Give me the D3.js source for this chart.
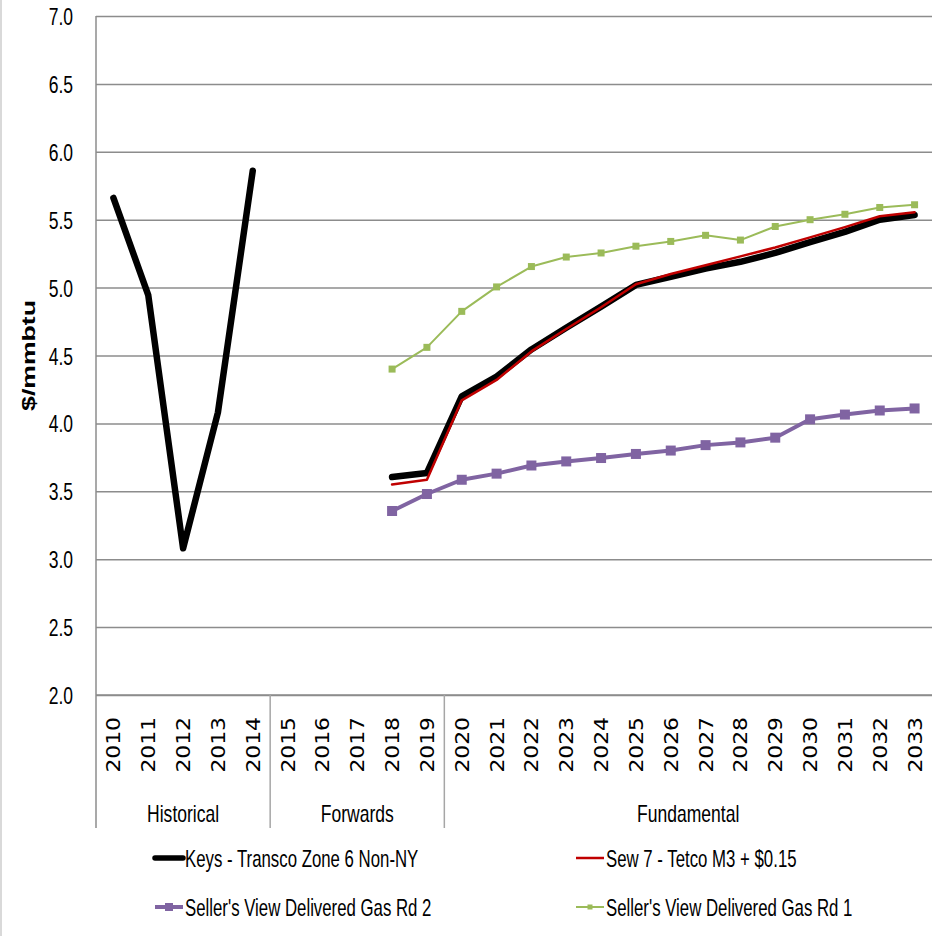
<!DOCTYPE html>
<html>
<head>
<meta charset="utf-8">
<script src="https://cdn.jsdelivr.net/npm/d3@7"></script>
<style>
  html, body { margin: 0; padding: 0; background: #fff; }
  svg { display: block; }
</style>
</head>
<body>
<script>
// ---- data ----
const years = ["2010","2011","2012","2013","2014","2015","2016","2017","2018","2019","2020","2021","2022","2023","2024","2025","2026","2027","2028","2029","2030","2031","2032","2033"];
const groups = [
  { name: "Historical", from: "2010", to: "2014" },
  { name: "Forwards", from: "2015", to: "2019" },
  { name: "Fundamental", from: "2020", to: "2033" }
];
const yTicks = [2.0, 2.5, 3.0, 3.5, 4.0, 4.5, 5.0, 5.5, 6.0, 6.5, 7.0];

const keys = [5.66, 4.945, 3.08, 4.08, 5.86, null, null, null, 3.605, 3.635, 4.20, 4.345, 4.545, 4.705, 4.86, 5.02, 5.08, 5.14, 5.19, 5.255, 5.335, 5.41, 5.50, 5.535];
const sew7 = [null, null, null, null, null, null, null, null, 3.55, 3.585, 4.17, 4.32, 4.53, 4.695, 4.855, 5.025, 5.10, 5.165, 5.23, 5.295, 5.37, 5.445, 5.525, 5.555];
const rd2 = [null, null, null, null, null, null, null, null, 3.355, 3.48, 3.585, 3.63, 3.69, 3.72, 3.745, 3.775, 3.80, 3.84, 3.86, 3.895, 4.03, 4.065, 4.095, 4.11];
const rd1 = [null, null, null, null, null, null, null, null, 4.40, 4.56, 4.825, 5.005, 5.155, 5.225, 5.255, 5.305, 5.34, 5.385, 5.35, 5.45, 5.50, 5.54, 5.59, 5.61];

const seriesNames = ["Keys - Transco Zone 6 Non-NY", "Sew 7 - Tetco M3 + $0.15", "Seller's View Delivered Gas Rd 2", "Seller's View Delivered Gas Rd 1"];

// ---- layout ----
const W = 936, H = 936;
const pLeft = 96, pRight = 932, pTop = 16, pBottom = 695;
const svg = d3.select("body").append("svg").attr("width", W).attr("height", H);

const x = d3.scaleBand().domain(years).range([pLeft, pRight]).paddingInner(0).paddingOuter(0);
const y = d3.scaleLinear().domain([2, 7]).range([pBottom, pTop]);
const cx = d => x(d) + x.bandwidth() / 2;

const FONT = "'Liberation Sans', Arial, sans-serif";

// faint left border of picture
svg.append("line").attr("x1", 1).attr("x2", 1).attr("y1", 0).attr("y2", H)
  .attr("stroke", "#d9d9d9").attr("stroke-width", 2);

// gridlines
const yAxis = d3.axisLeft(y).tickValues(yTicks).tickSize(-(pRight - pLeft)).tickFormat(d3.format(".1f"));
const gy = svg.append("g").attr("transform", `translate(${pLeft},0)`).call(yAxis);
gy.select(".domain").remove();
gy.selectAll(".tick line").attr("stroke", "#8c8c8c").attr("stroke-width", 1.5);
gy.selectAll(".tick text").remove();
// y tick labels (condensed look)
gy.selectAll(".tick").append("text")
  .attr("transform", "translate(-23,8.5) scale(0.73,1)")
  .attr("text-anchor", "end")
  .attr("font-family", FONT).attr("font-size", 24).attr("fill", "#000")
  .text(d => d3.format(".1f")(d));

// left axis line
svg.append("line").attr("x1", pLeft).attr("x2", pLeft).attr("y1", pTop).attr("y2", 828)
  .attr("stroke", "#8c8c8c").attr("stroke-width", 1.5);
// bottom axis line
svg.append("line").attr("x1", pLeft).attr("x2", pRight).attr("y1", pBottom).attr("y2", pBottom)
  .attr("stroke", "#8c8c8c").attr("stroke-width", 1.5);

// y title
svg.append("text")
  .attr("transform", `translate(35,${(pTop + pBottom) / 2}) rotate(-90) scale(1.4,1)`)
  .attr("text-anchor", "middle")
  .attr("font-family", FONT).attr("font-weight", "bold").attr("font-size", 19)
  .text("$/mmbtu");

// year labels
const xAxis = d3.axisBottom(x).tickSize(0).tickFormat(d => d);
const gx = svg.append("g").attr("transform", `translate(0,${pBottom})`).call(xAxis);
gx.select(".domain").remove();
gx.selectAll(".tick text").remove();
gx.selectAll(".tick").append("text")
  .attr("transform", "translate(7,22) rotate(-90) scale(1.15,1)")
  .attr("text-anchor", "end")
  .attr("font-family", "'DejaVu Sans', Verdana, sans-serif").attr("font-size", 19).attr("fill", "#000")
  .text(d => d);

// group dividers and labels
groups.forEach((g, i) => {
  const x0 = x(g.from), x1 = x(g.to) + x.bandwidth();
  if (i > 0) {
    svg.append("line").attr("x1", x0).attr("x2", x0).attr("y1", pBottom).attr("y2", 828)
      .attr("stroke", "#a6a6a6").attr("stroke-width", 1.5);
  }
  svg.append("text")
    .attr("transform", `translate(${(x0 + x1) / 2},822) scale(0.73,1)`)
    .attr("text-anchor", "middle")
    .attr("font-family", FONT).attr("font-size", 24).attr("fill", "#000")
    .text(g.name);
});

// series
const series = [
  { name: seriesNames[0], values: keys, color: "#000000", width: 6.5, marker: 0 },
  { name: seriesNames[1], values: sew7, color: "#C00000", width: 2.5, marker: 0 },
  { name: seriesNames[2], values: rd2, color: "#8064A2", width: 4, marker: 10 },
  { name: seriesNames[3], values: rd1, color: "#9BBB59", width: 2, marker: 7 }
];

const line = d3.line()
  .defined(d => d.v != null)
  .x(d => cx(d.year))
  .y(d => y(d.v));

series.forEach(s => {
  const pts = years.map((yr, i) => ({ year: yr, v: s.values[i] }));
  svg.append("path").datum(pts)
    .attr("d", line)
    .attr("fill", "none")
    .attr("stroke", s.color)
    .attr("stroke-width", s.width)
    .attr("stroke-linejoin", "round")
    .attr("stroke-linecap", "round");
  if (s.marker) {
    svg.append("g").selectAll("rect").data(pts.filter(p => p.v != null)).join("rect")
      .attr("x", p => cx(p.year) - s.marker / 2)
      .attr("y", p => y(p.v) - s.marker / 2)
      .attr("width", s.marker).attr("height", s.marker)
      .attr("fill", s.color);
  }
});

// legend
const legendPos = [
  { x: 155, y: 858 }, { x: 576, y: 858 }, { x: 155, y: 907 }, { x: 576, y: 907 }
];
series.forEach((s, i) => {
  const p = legendPos[i];
  const g = svg.append("g").attr("transform", `translate(${p.x},${p.y})`);
  g.append("line").attr("x1", 0).attr("x2", 28).attr("y1", 0).attr("y2", 0)
    .attr("stroke", s.color).attr("stroke-width", i === 0 ? 5.5 : s.width)
    .attr("stroke-linecap", i === 0 ? "round" : "butt");
  if (s.marker) {
    const m = s.marker - 2;
    g.append("rect").attr("x", 14 - m / 2).attr("y", -m / 2).attr("width", m).attr("height", m).attr("fill", s.color);
  }
  g.append("text")
    .attr("transform", "translate(30,8.5) scale(0.70,1)")
    .attr("font-family", FONT).attr("font-size", 24).attr("fill", "#000")
    .text(s.name);
});
</script>
</body>
</html>
